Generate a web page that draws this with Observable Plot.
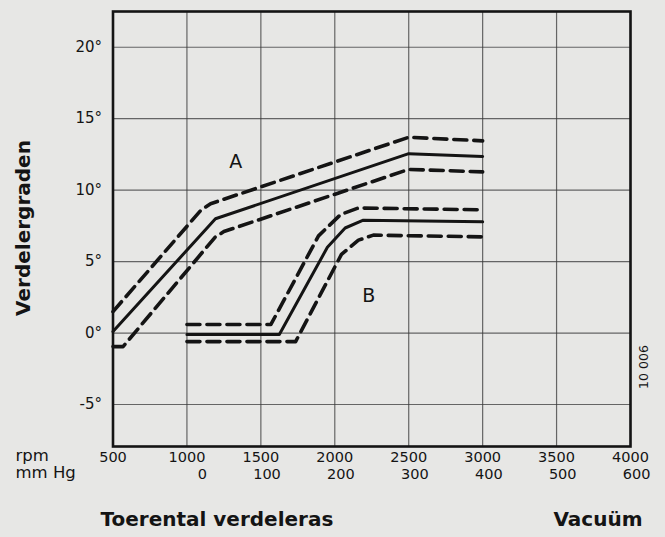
<!DOCTYPE html>
<html>
<head>
<meta charset="utf-8">
<script src="https://cdn.jsdelivr.net/npm/d3@7"></script>
<script src="https://cdn.jsdelivr.net/npm/@observablehq/plot@0.6"></script>
<style>
  html, body { margin: 0; padding: 0; background: #e7e7e5; }
  #chart svg { display: block; }
</style>
</head>
<body>
<div id="chart"></div>
<script>
// Tick values / labels
const rpmTicks = [500, 1000, 1500, 2000, 2500, 3000, 3500, 4000];
const mmHgLabels = ["0", "100", "200", "300", "400", "500", "600"];
const mmHgAtRpm = [1000, 1500, 2000, 2500, 3000, 3500, 4000];
const degreeTicks = [-5, 0, 5, 10, 15, 20];

// Curve A: [rpm, degrees]
const curveAMid   = [[500, 0.1], [1193, 8.0], [2500, 12.55], [3000, 12.35]];
const curveAUpper = [[500, 1.5], [1095, 8.6], [1160, 9.05], [2500, 13.7], [3000, 13.45]];
const curveALower = [[500, -0.95], [568, -0.95], [1190, 6.7], [1250, 7.1], [2500, 11.45], [3000, 11.28]];

// Curve B (vacuum): [rpm, degrees]
const curveBMid   = [[1000, -0.1], [1625, -0.1], [1950, 6.0], [2070, 7.35], [2193, 7.9], [3000, 7.78]];
const curveBUpper = [[1000, 0.6], [1568, 0.6], [1890, 6.8], [2040, 8.3], [2160, 8.75], [3000, 8.62]];
const curveBLower = [[1000, -0.6], [1735, -0.6], [2045, 5.5], [2160, 6.5], [2261, 6.85], [3000, 6.73]];

// Curve labels
const curveLabels = [{name: "A", rpm: 1330, deg: 11.95}, {name: "B", rpm: 2230, deg: 2.6}];

const ink = "#141414";
const solid = {x: d => d[0], y: d => d[1], stroke: ink, strokeWidth: 3};
const dashed = {x: d => d[0], y: d => d[1], stroke: ink, strokeWidth: 3.6, strokeDasharray: "13,7"};
const tickFont = {fontSize: 14.5, letterSpacing: 0.6, fill: ink};

const chart = Plot.plot({
  width: 665,
  height: 537,
  marginLeft: 112.5,
  marginRight: 35,
  marginTop: 11,
  marginBottom: 91,
  style: {background: "#e7e7e5", fontFamily: "DejaVu Sans", color: ink},
  x: {domain: [500, 4000], axis: null},
  y: {domain: [-7.94, 22.5], axis: null},
  marks: [
    Plot.gridX(rpmTicks, {stroke: "#3a3a3a", strokeOpacity: 0.75, strokeWidth: 1.2}),
    Plot.gridY(degreeTicks, {stroke: "#3a3a3a", strokeOpacity: 0.75, strokeWidth: 1.2}),
    Plot.frame({stroke: ink, strokeWidth: 2.6}),
    Plot.line(curveAUpper, dashed),
    Plot.line(curveAMid, solid),
    Plot.line(curveALower, dashed),
    Plot.line(curveBUpper, dashed),
    Plot.line(curveBMid, solid),
    Plot.line(curveBLower, dashed),
    Plot.text(curveLabels, {x: "rpm", y: "deg", text: "name", fontSize: 19, fill: ink}),
    // y tick labels
    Plot.text(degreeTicks, {x: 500, y: d => d, text: d => d + "°", textAnchor: "end", dx: -11, fontSize: 15, fill: ink}),
    // rpm row
    Plot.text(rpmTicks, {x: d => d, frameAnchor: "bottom", dy: 15, text: d => String(d), ...tickFont}),
    // mm Hg row
    Plot.text(mmHgLabels, {x: (d, i) => mmHgAtRpm[i], frameAnchor: "bottom", dy: 32, dx: 20, textAnchor: "end", text: d => d, ...tickFont}),
    Plot.text(["rpm"], {frameAnchor: "bottom-left", dx: -97.5, dy: 14, textAnchor: "start", text: d => d, fontSize: 16.5, fill: ink}),
    Plot.text(["mm Hg"], {frameAnchor: "bottom-left", dx: -97.5, dy: 31.5, textAnchor: "start", text: d => d, fontSize: 16.5, fill: ink}),
    // axis titles
    Plot.text(["Toerental verdeleras"], {frameAnchor: "bottom-left", dx: -12.5, dy: 79, textAnchor: "start", text: d => d, fontSize: 20, fontWeight: "bold", fill: ink}),
    Plot.text(["Vacuüm"], {frameAnchor: "bottom-right", dx: 12, dy: 79, textAnchor: "end", text: d => d, fontSize: 20, fontWeight: "bold", fill: ink}),
    Plot.text(["Verdelergraden"], {frameAnchor: "left", dx: -89.5, dy: -1, rotate: -90, textAnchor: "middle", text: d => d, fontSize: 20, fontWeight: "bold", fill: ink}),
    Plot.text(["10 006"], {frameAnchor: "right", dx: 13, dy: 138, rotate: -90, textAnchor: "middle", text: d => d, fontSize: 12.5, fill: ink})
  ]
});
document.getElementById("chart").appendChild(chart);
</script>
</body>
</html>
